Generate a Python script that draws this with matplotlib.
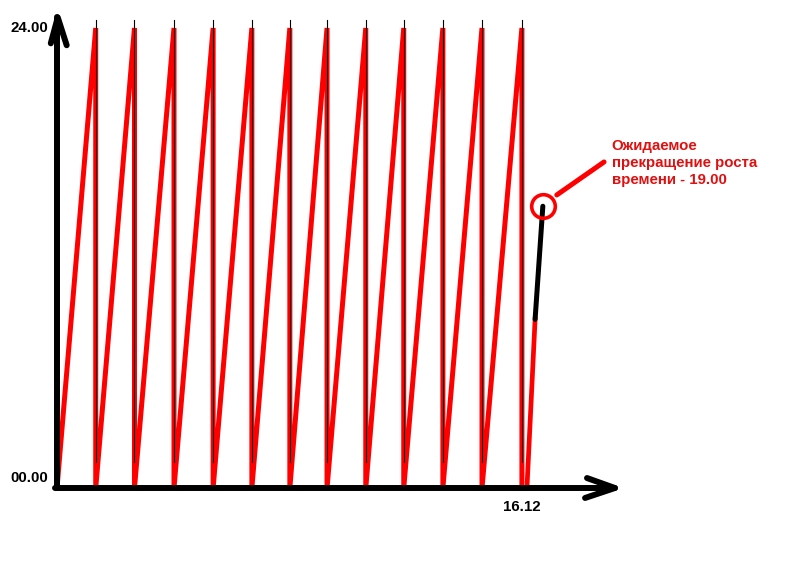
import matplotlib.pyplot as plt

# days since start (x), hours of day (y)
peak_days = [1.0, 2.0, 3.02, 4.03, 5.03, 6.01, 6.97, 7.97, 8.95, 9.96, 10.97, 12.0]
peak_hour = 24.0
tail_days = [12.13, 12.34]
tail_hours = [0.0, 8.8]
forecast_days = [12.34, 12.54]
forecast_hours = [8.8, 14.7]
y_labels = ['00.00', '24.00']
x_label = '16.12'
note = 'Ожидаемое\nпрекращение роста\nвремени - 19.00'

plt.rcParams['font.family'] = ['Liberation Sans', 'DejaVu Sans']

fig = plt.figure(figsize=(7.97, 5.71), dpi=100)
ax = fig.add_axes([0, 0, 1, 1])
ax.set_xlim(-1.471, 19.10)
ax.set_ylim(-4.33, 25.46)
ax.axis('off')

# sawtooth
xs, ys = [], []
starts = [0.0] + peak_days[:-1]
for s, p in zip(starts, peak_days):
    xs += [s, p, p]
    ys += [0, peak_hour, 0]
ax.plot(xs, ys, color='#ff0000', lw=3.6, solid_joinstyle='miter', zorder=3)

# thin black lines at the drops
for p in peak_days:
    ax.plot([p, p], [1.36, 24.4], color='black', lw=0.8, zorder=4)

ax.plot(tail_days, tail_hours, color='#ff0000', lw=3.4, zorder=3)
ax.plot(forecast_days, forecast_hours, color='black', lw=3.6,
        solid_capstyle='round', zorder=4)

# axes with arrows
ax.plot([0, 0], [0, 24.55], color='black', lw=4.3, solid_capstyle='round', zorder=5)
ax.plot([-0.16, 0.02, 0.25], [23.2, 24.55, 23.1], color='black', lw=4.3,
        solid_capstyle='round', solid_joinstyle='round', zorder=5)
ax.plot([-0.05, 14.4], [0, 0], color='black', lw=4.3, solid_capstyle='round', zorder=5)
ax.plot([13.68, 14.4, 13.63], [0.52, 0, -0.52], color='black', lw=4.3,
        solid_capstyle='round', solid_joinstyle='round', zorder=5)

ax.text(-0.70, 24.0, y_labels[1], ha='center', va='center', fontsize=10.8, fontweight='bold')
ax.text(-0.72, 0.52, y_labels[0], ha='center', va='center', fontsize=10.8, fontweight='bold')
ax.text(12.0, -0.99, x_label, ha='center', va='center', fontsize=10.8, fontweight='bold')

# annotation
ax.plot([forecast_days[-1]], [forecast_hours[-1]], marker='o', ms=17, mfc='none',
        mec='#ff0000', mew=2.6, zorder=6)
ax.plot([12.90, 14.12], [15.29, 17.01], color='#ff0000', lw=3.6,
        solid_capstyle='round', zorder=6)
ax.text(14.32, 18.2, note, ha='left', va='top', fontsize=10.8, fontweight='bold',
        color='#e01010', linespacing=1.25)

fig.savefig('out.png', dpi=100)
